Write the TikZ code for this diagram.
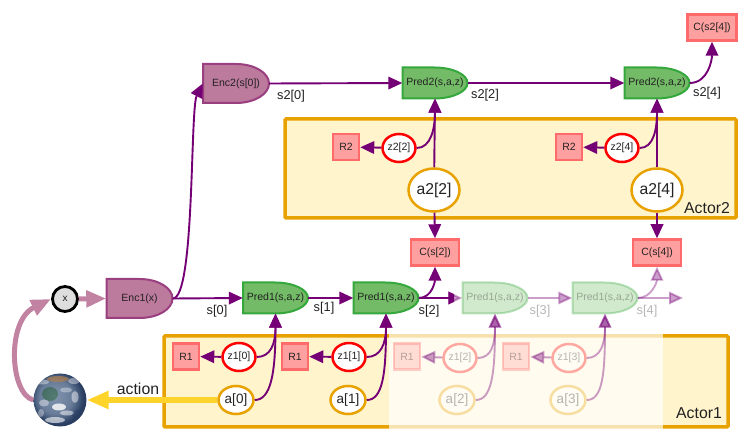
\documentclass[tikz,border=0pt]{standalone}
\usepackage{fontspec}
\setmainfont{Liberation Sans}
\usetikzlibrary{arrows.meta,shapes}

\definecolor{flowpurple}{HTML}{750075}
\definecolor{flowpink}{HTML}{C283A3}
\definecolor{enctint}{HTML}{BC7A9C}
\definecolor{encline}{HTML}{9A3F7F}
\definecolor{predtint}{HTML}{73BB66}
\definecolor{predline}{HTML}{34A83C}
\definecolor{costtint}{HTML}{FFA0A0}
\definecolor{costline}{HTML}{FF6B6B}
\definecolor{actortint}{HTML}{FFF4CC}
\definecolor{actorline}{HTML}{E8A200}
\definecolor{darktext}{HTML}{222222}
\definecolor{actionyellow}{HTML}{FFD42A}
\definecolor{seamid}{HTML}{8296B0}
\definecolor{seadeep}{HTML}{2A3E62}

\tikzset{
  flow/.style={draw=flowpurple,line width=1.9pt,-{Triangle[length=14pt,width=12.5pt]}},
  world/.style={draw=flowpink,line width=5pt,-{Triangle[length=20pt,width=16pt]}},
  enc/.style={draw=encline,fill=enctint,line width=2pt},
  pred/.style={draw=predline,fill=predtint,line width=2pt},
  gatetext/.style={inner sep=0pt,text=darktext,font=\fontsize{10.5}{12}\selectfont},
  costbox/.style={draw=costline,fill=costtint,line width=2.5pt,rectangle,inner sep=0pt,
    minimum height=26pt,text=darktext,font=\fontsize{10.5}{12}\selectfont},
  latent/.style={draw=red,fill=white,line width=2.5pt,ellipse,inner sep=0pt,
    minimum width=33pt,minimum height=28pt,text=darktext,font=\fontsize{10.5}{12}\selectfont},
  act/.style={draw=actorline,fill=white,line width=2.5pt,ellipse,inner sep=0pt,
    minimum width=35pt,minimum height=28pt,text=darktext,font=\fontsize{13.5}{15}\selectfont},
  actbig/.style={act,minimum width=51pt,minimum height=43pt,font=\fontsize{15.7}{18}\selectfont},
  actorbox/.style={draw=actorline,fill=actortint,line width=3.5pt,rounded corners=1pt},
  slabel/.style={inner sep=0pt,text=darktext,font=\fontsize{12.8}{15}\selectfont},
  biglabel/.style={inner sep=0pt,text=darktext,font=\fontsize{15.8}{18}\selectfont},
  faded/.style={opacity=.33},
  fadedflow/.style={flow,draw opacity=.38,fill opacity=.38},
}

\pgfdeclareradialshading{earthsea}{\pgfpoint{-6pt}{4pt}}{
  color(0pt)=(seamid); color(16pt)=(seamid!70!seadeep); color(25pt)=(seadeep); color(50pt)=(seadeep)}

% style, name, centre x, centre y, width, height, text
\newcommand{\gatenode}[7]{
  \draw[#1] (#3-#5/2,#4+#6/2) -- ++(#5-33,0)
    arc[start angle=90,end angle=-90,x radius=33,y radius=#6/2]
    -- ++(33-#5,0) -- cycle;
  \node[gatetext,minimum width=#5pt,minimum height=#6pt] (#2) at (#3,#4) {#7\hspace{7pt}};
}

\begin{document}
\begin{tikzpicture}[x=1pt,y=1pt]
  \useasboundingbox (0,0) rectangle (753,439);

  % actor panels
  \draw[actorbox] (285,320) rectangle (736,221);
  \draw[actorbox] (164,103) rectangle (728,12);
  \fill[white,opacity=.68] (389,9) rectangle (663,106);
  \node[biglabel] (actor2) at (707,231) {Actor2};
  \node[biglabel] (actor1) at (699,26) {Actor1};

  % world
  \node[circle,minimum size=53pt,inner sep=0pt,shading=earthsea] (earth) at (60,39) {};
  \begin{scope}
    \clip (60,39) circle (26.5);
    \fill[brown!75!gray,opacity=.7] (58,60) ellipse (11 and 3);
    \fill[white,opacity=.4] (42,57) ellipse (7 and 2.5);
    \fill[white,opacity=.4] (74,58) ellipse (6 and 3);
    \fill[black!70!green,opacity=.35] (50,45) ellipse (8 and 7);
    \fill[white,opacity=.8] (59,32) ellipse (7 and 3.5);
    \fill[white,opacity=.5] (67,26) ellipse (7 and 2.5);
    \fill[white,opacity=.6] (55,19) ellipse (10 and 3);
    \fill[white,opacity=.45] (75,42) ellipse (3.5 and 6);
    \fill[white,opacity=.4] (44,36) ellipse (5 and 3.5);
    \fill[white,opacity=.35] (66,49) ellipse (6 and 2.5);
    \fill[white,opacity=.35] (41,26) ellipse (3 and 4);
    \fill[seadeep,opacity=.45] (78,24) ellipse (6 and 5);
  \end{scope}
  \node[draw=black,fill=black!13,line width=2.8pt,circle,minimum size=25pt,inner sep=0pt,
    text=darktext,font=\fontsize{10}{11}\selectfont] (x) at (65,140) {x};

  % encoders and predictors
  \gatenode{enc}{enc1}{139.5}{140.5}{66}{39}{Enc1(x)}
  \gatenode{enc}{enc2}{236}{355.5}{66}{39}{Enc2(s[0])}
  \gatenode{pred}{pred1a}{275.5}{141}{65}{31}{Pred1(s,a,z)}
  \gatenode{pred}{pred1b}{386}{141}{65}{31}{Pred1(s,a,z)}
  \gatenode{pred}{pred2a}{435}{356}{65}{31}{Pred2(s,a,z)}
  \gatenode{pred}{pred2b}{657}{356}{65}{31}{Pred2(s,a,z)}

  % costs
  \node[costbox,minimum width=49pt] (cs2top) at (712,411.5) {C(s2[4])};
  \node[costbox,minimum width=48pt] (cs2) at (435,186.5) {C(s[2])};
  \node[costbox,minimum width=48pt] (cs4) at (657,186.5) {C(s[4])};
  \node[costbox,minimum width=26pt] (r2a) at (346,292) {R2};
  \node[costbox,minimum width=26pt] (r2b) at (569,292) {R2};
  \node[costbox,minimum width=26pt] (r1a) at (186,82.5) {R1};
  \node[costbox,minimum width=26pt] (r1b) at (295,82.5) {R1};

  % latents and actions
  \node[latent] (z22) at (399,291) {z2[2]};
  \node[latent] (z24) at (622,291) {z2[4]};
  \node[latent] (z10) at (239,82) {z1[0]};
  \node[latent] (z11) at (349,82) {z1[1]};
  \node[actbig] (a22) at (434,249) {a2[2]};
  \node[actbig] (a24) at (657,249) {a2[4]};
  \node[act] (a0) at (236,39) {a[0]};
  \node[act] (a1) at (348,39) {a[1]};

  % what comes later in time
  \begin{scope}[faded]
    \gatenode{pred}{pred1c}{495}{141}{65}{31}{Pred1(s,a,z)}
    \gatenode{pred}{pred1d}{605}{141}{65}{31}{Pred1(s,a,z)}
    \node[costbox,minimum width=26pt] (r1c) at (407,82.5) {R1};
    \node[costbox,minimum width=26pt] (r1d) at (516,82.5) {R1};
    \node[latent] (z12) at (460,81) {z1[2]};
    \node[latent] (z13) at (569,81) {z1[3]};
    \node[act] (a2) at (457,39) {a[2]};
    \node[act] (a3) at (568,39) {a[3]};
    \coordinate (send) at (683,141);
    \node[slabel] (s3) at (540,128) {s[3]};
    \node[slabel] (s4) at (647,128) {s[4]};
  \end{scope}
  \draw[fadedflow] (pred1b.east) -- (pred1c.west);
  \draw[fadedflow] (pred1c.east) -- (pred1d.west);
  \draw[fadedflow] (pred1d.east) -- (send);
  \draw[fadedflow] (pred1d.east) to[out=0,in=-90] (cs4.south);
  \draw[fadedflow] (z12) -- (r1c);
  \draw[fadedflow] (z13) -- (r1d);
  \draw[fadedflow] (z12.east) .. controls +(14,0) and +(0,-30) .. (pred1c.south);
  \draw[fadedflow] (a2.east) .. controls +(16,0) and +(0,-60) .. (pred1c.south);
  \draw[fadedflow] (z13.east) .. controls +(14,0) and +(0,-30) .. (pred1d.south);
  \draw[fadedflow] (a3.east) .. controls +(16,0) and +(0,-60) .. (pred1d.south);

  % connectors
  \draw[world] (earth.west) .. controls (10,45) and (6,118) .. (x.west);
  \draw[world] (x.east) -- (enc1.west);
  \draw[flow] (enc1.east) -- (pred1a.west);
  \draw[flow] (enc1.east) .. controls (195,140) and (190,330) .. (enc2.west);
  \draw[flow] (enc2.east) -- (pred2a.west);
  \draw[flow] (pred2a.east) -- (pred2b.west);
  \draw[flow] (pred2b.east) to[out=0,in=-90] (cs2top.south);
  \draw[flow] (pred1a.east) -- (pred1b.west);
  \begin{scope}
    \clip (400,120) rectangle (454,160);
    \draw[flow] (pred1b.east) -- (pred1c.west);
  \end{scope}
  \draw[flow] (pred1b.east) to[out=0,in=-90] (cs2.south);
  \draw[flow] (a22) -- (pred2a.south);
  \draw[flow] (a22) -- (cs2.north);
  \draw[flow] (a24) -- (pred2b.south);
  \draw[flow] (a24) -- (cs4.north);
  \draw[flow] (z22) -- (r2a);
  \draw[flow] (z24) -- (r2b);
  \draw[flow] (z22.east) .. controls +(14,0) and +(0,-30) .. (pred2a.south);
  \draw[flow] (z24.east) .. controls +(14,0) and +(0,-30) .. (pred2b.south);
  \draw[flow] (z10) -- (r1a);
  \draw[flow] (z11) -- (r1b);
  \draw[flow] (z10.east) .. controls +(14,0) and +(0,-30) .. (pred1a.south);
  \draw[flow] (a0.east) .. controls +(16,0) and +(0,-60) .. (pred1a.south);
  \draw[flow] (z11.east) .. controls +(14,0) and +(0,-30) .. (pred1b.south);
  \draw[flow] (a1.east) .. controls +(16,0) and +(0,-60) .. (pred1b.south);
  \draw[draw=actionyellow,line width=5.5pt,-{Triangle[length=22pt,width=17pt]}] (a0.west) -- (earth.east);

  % state labels
  \node[slabel] (s0) at (217,128) {s[0]};
  \node[slabel] (s1) at (324,131) {s[1]};
  \node[slabel] (s2) at (429,128) {s[2]};
  \node[slabel] (s20) at (291,343) {s2[0]};
  \node[slabel] (s22) at (485,344) {s2[2]};
  \node[slabel] (s24) at (707,346) {s2[4]};
  \node[biglabel] (action) at (138,50) {action};
\end{tikzpicture}
\end{document}
